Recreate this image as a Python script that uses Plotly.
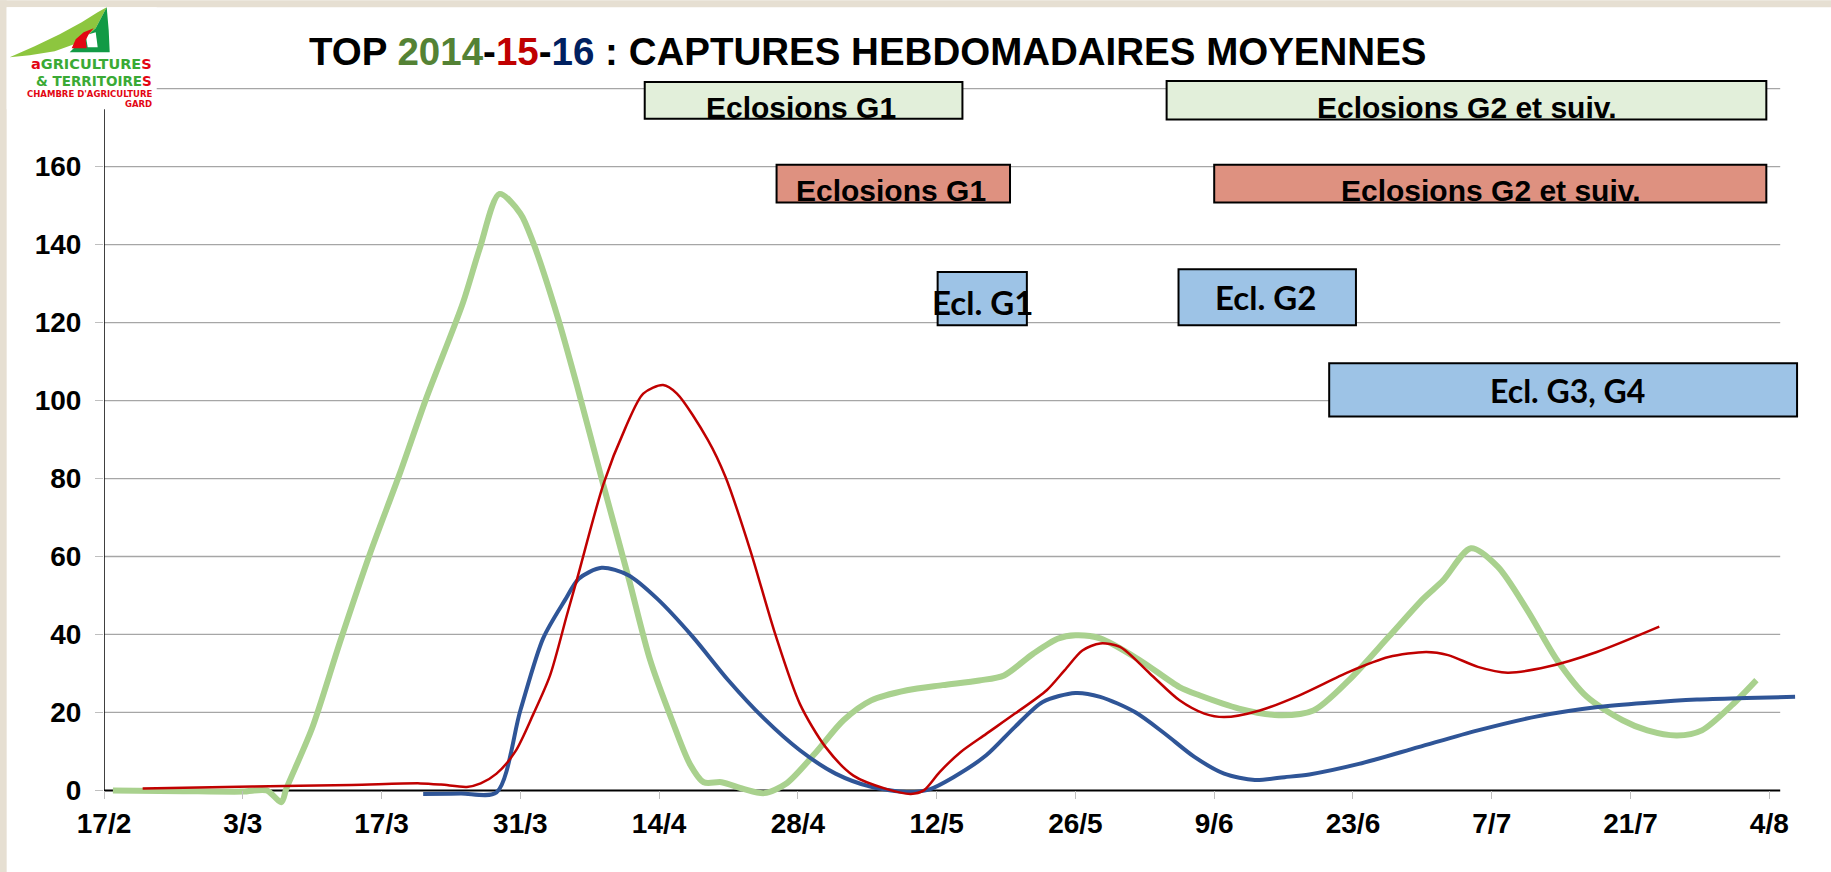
import plotly.graph_objects as go

# ---------------- data (x = days since 17/2) ----------------
tick_days = [0, 14, 28, 42, 56, 70, 84, 98, 112, 126, 140, 154, 168]
tick_labels = ['17/2', '3/3', '17/3', '31/3', '14/4', '28/4', '12/5', '26/5',
               '9/6', '23/6', '7/7', '21/7', '4/8']
y_ticks = [0, 20, 40, 60, 80, 100, 120, 140, 160]
grid_vals = [20, 40, 60, 80, 100, 120, 140, 160, 180]

days_2014 = [0.9, 8, 14, 16.4, 17.9, 18.4, 21, 23.8, 26.8, 29.8, 32.5, 36.2, 37.9, 39.9,
             42, 43.3, 45.7, 47.7, 50.2, 52.9, 55.1, 57.3, 59.1, 60.5, 62.3, 64.5, 66.6,
             68.8, 71.7, 74.6, 77.4, 81, 84.6, 88.3, 90.8, 93.7, 96.2, 98, 100.5, 104.5,
             108.5, 110.5, 114.5, 118.5, 122, 125.6, 129.6, 133.1, 135.1, 137.9, 140.6,
             143.6, 146.6, 149.6, 153.2, 155.7, 158.7, 161.2, 164.2, 166.7]
capt_2014 = [0, -0.2, -0.3, 0, -3, 0.5, 16, 38, 60.5, 81, 100.5, 125, 139, 153,
             148, 140.5, 122, 104, 80, 54.7, 33.4, 18, 6.8, 2.1, 2.1, 0.4, -0.7,
             1.7, 9.4, 18, 23.1, 25.7, 27, 28.2, 29.5, 35, 38.9, 39.8, 39, 33.4,
             26.5, 24.4, 21, 19.3, 20.5, 28.3, 39.4, 49.2, 53.9, 62.1, 57.4,
             46.2, 33.4, 24, 18, 15.4, 14.1, 15.4, 21.8, 28.3]

days_2015 = [3.9, 15, 25, 31.9, 34, 36.6, 38, 39.6, 41.5, 43.3, 45, 46.7, 47.7, 50.4,
             52.6, 54.4, 56.4, 57.8, 60.9, 62.7, 65.2, 67.7, 70.2, 72.8, 75.6, 78.9,
             81.4, 82.7, 84.3, 86.4, 89, 91.9, 95.1, 96.9, 98.7, 100.5, 102.5, 105.5,
             108.5, 111, 113, 116.6, 120.6, 125.6, 129.6, 133.4, 135.6, 138.6, 141.6,
             145.6, 150.6, 156.9]
capt_2015 = [0.5, 1.0, 1.4, 1.8, 1.5, 0.9, 1.8, 4.3, 10, 19.5, 29.5, 45, 54, 78.7,
             93, 101.8, 104, 101.8, 90, 80.4, 61.6, 40.2, 22.2, 11.1, 3.8, 0.4,
             -0.9, 0, 4.7, 9.8, 14.5, 19.7, 25.7, 30.8, 35.9, 37.7, 36.8, 30,
             23.1, 19.7, 18.8, 20.5, 24.4, 30.4, 34.2, 35.5, 34.7, 31.7, 30.2,
             31.7, 35.5, 42]

days_2016 = [32.2, 36, 39.6, 42, 44.3, 46.5, 47.9, 50.2, 52.9, 55.8, 59.4, 63, 66.6,
             70.2, 73.8, 77.4, 81, 83.2, 85.7, 89, 91.9, 94.7, 98, 100.5, 104, 107,
             110, 113, 116.1, 119.1, 121.6, 126.6, 132.6, 138.6, 144.6, 150.7, 155.7,
             160.7, 165.7, 170.6]
capt_2016 = [-0.9, -0.8, -0.5, 20.5, 39, 48.8, 54.3, 57.1, 55.2, 49.2, 39.4, 28.2, 18.4,
             10.3, 4.3, 0.9, -0.4, 0.2, 3.4, 9, 16.3, 22.7, 25, 24, 20.1, 14.6,
             8.6, 4.3, 2.7, 3.4, 4.1, 6.8, 11.1, 15.4, 19, 21.4, 22.5,
             23.3, 23.7, 24]

# ---------------- geometry ----------------
FW, FH = 1831, 872
L = 104.3
XPX, YPX = 9.91, 3.898          # pixels per day / per unit
XMAX, YMIN, YMAX = 171.5, -4, 183
Y0PX = 790.0                    # pixel row of value 0
W = XMAX * XPX
H = (YMAX - YMIN) * YPX
T = Y0PX - YMAX * YPX
B = FH - (Y0PX - YMIN * YPX)
X_END, Y_END = 169.1, 180


def px(x):
    return (x - L) / W


def py(y):
    return (T + H - y) / H


AX = "Liberation Sans, Arial, sans-serif"
CAL = "Lato, Carlito, Calibri, sans-serif"
LOGO = "DejaVu Sans, Liberation Sans, sans-serif"

fig = go.Figure()
fig.add_trace(go.Scatter(x=days_2014, y=capt_2014, mode='lines', name='2014',
                         line=dict(color='#a9d18e', width=6, shape='spline', smoothing=0.8)))
fig.add_trace(go.Scatter(x=days_2016, y=capt_2016, mode='lines', name='2016',
                         line=dict(color='#2f5597', width=4, shape='spline', smoothing=0.8)))
fig.add_trace(go.Scatter(x=days_2015, y=capt_2015, mode='lines', name='2015',
                         line=dict(color='#c00000', width=2.5, shape='spline', smoothing=0.8)))

shapes = []
for g in grid_vals:
    shapes.append(dict(type='line', xref='x', yref='y', x0=0, x1=X_END, y0=g, y1=g,
                       line=dict(color='#a6a6a6', width=1.3), layer='below'))
shapes.append(dict(type='line', xref='x', yref='y', x0=0, x1=X_END, y0=0, y1=0,
                   line=dict(color='black', width=2), layer='below'))
shapes.append(dict(type='line', xref='x', yref='y', x0=0, x1=0, y0=0, y1=Y_END,
                   line=dict(color='black', width=1.5), layer='below'))

boxes = [
    (54.55, 86.6, 172.3, 181.7, '#e2efda'),
    (107.2, 167.7, 172.1, 182.0, '#e2efda'),
    (67.85, 91.4, 150.8, 160.5, '#de9180'),
    (112.0, 167.7, 150.8, 160.5, '#de9180'),
    (84.1, 93.1, 119.3, 133.0, '#9dc3e6'),
    (108.4, 126.3, 119.3, 133.7, '#9dc3e6'),
    (123.6, 170.8, 95.9, 109.6, '#9dc3e6'),
]
for x0, x1, y0, y1, col in boxes:
    shapes.append(dict(type='rect', xref='x', yref='y', x0=x0, x1=x1, y0=y0, y1=y1,
                       fillcolor=col, line=dict(color='black', width=2), layer='above'))

# page background strips
shapes.append(dict(type='rect', xref='paper', yref='paper', x0=px(0), x1=px(FW),
                   y0=py(7), y1=py(0), fillcolor='#e6dfd2', line=dict(width=0), layer='above'))
shapes.append(dict(type='rect', xref='paper', yref='paper', x0=px(0), x1=px(7),
                   y0=py(FH), y1=py(0), fillcolor='#e6dfd2', line=dict(width=0), layer='above'))
# logo white backing
shapes.append(dict(type='rect', xref='paper', yref='paper', x0=px(7), x1=px(157),
                   y0=py(109), y1=py(7), fillcolor='white', line=dict(width=0), layer='above'))


def poly(pts):
    return 'M ' + ' L '.join(f'{px(a):.5f},{py(b):.5f}' for a, b in pts) + ' Z'


shapes.append(dict(type='path', xref='paper', yref='paper',
                   path=poly([(10, 57), (35, 46), (60, 34), (82, 22), (98, 12), (107, 7),
                              (96, 28), (80, 42), (55, 51), (30, 55)]),
                   fillcolor='#8dc63f', line=dict(width=0), layer='above'))
shapes.append(dict(type='path', xref='paper', yref='paper',
                   path=poly([(107, 7), (109, 30), (110, 52), (70, 52), (80, 42), (96, 28)]),
                   fillcolor='#129a45', line=dict(width=0), layer='above'))
shapes.append(dict(type='path', xref='paper', yref='paper',
                   path=poly([(86, 35), (96, 32), (98, 47), (88, 47)]),
                   fillcolor='white', line=dict(width=0), layer='above'))
shapes.append(dict(type='path', xref='paper', yref='paper',
                   path=poly([(72, 48), (76, 39), (84, 32), (94, 28), (89, 34), (86, 40), (87, 48)]),
                   fillcolor='#e30613', line=dict(width=0), layer='above'))

ann = []
ann.append(dict(xref='paper', yref='paper', x=px(868), y=py(51), xanchor='center', yanchor='middle',
                showarrow=False,
                text="TOP <span style='color:#548235'>2014</span>-<span style='color:#c00000'>15</span>-"
                     "<span style='color:#002060'>16</span> : CAPTURES HEBDOMADAIRES MOYENNES",
                font=dict(family=AX, size=38.5, color='black', weight='bold')))
labels = [
    ('Eclosions G1', 70.35, 175.3, AX, 30),
    ('Eclosions G2 et suiv.', 137.5, 175.3, AX, 30),
    ('Eclosions G1', 79.4, 153.8, AX, 30),
    ('Eclosions G2 et suiv.', 139.9, 153.8, AX, 30),
    ('Ecl. G1', 88.6, 125.3, CAL, 33),
    ('Ecl. G2', 117.2, 126.5, CAL, 33),
    ('Ecl. G3, G4', 147.6, 102.6, CAL, 32),
]
for txt, x, y, fam, sz in labels:
    ann.append(dict(xref='x', yref='y', x=x, y=y, xanchor='center', yanchor='middle',
                    showarrow=False, text=txt,
                    font=dict(family=fam, size=sz, color='black', weight='bold')))

# logo text, one annotation per line
R, G = '#e30613', '#3aaa35'
logo_lines = [
    (f"<span style='color:{R}'>a</span>GRICULTURE<span style='color:{R}'>S</span>", 64.0, 14.5, G),
    (f"&amp; TERRITOIRE<span style='color:{R}'>S</span>", 80.5, 13.5, G),
    ("CHAMBRE D'AGRICULTURE", 93.6, 8.5, R),
    ("GARD", 103.6, 8.5, R),
]
for txt, yy, sz, col in logo_lines:
    ann.append(dict(xref='paper', yref='paper', x=px(154), y=py(yy), xanchor='right',
                    yanchor='middle', showarrow=False, text=txt,
                    font=dict(family=LOGO, size=sz, color=col, weight='bold')))

fig.update_layout(
    width=FW, height=FH, autosize=False,
    margin=dict(l=L, r=FW - L - W, t=T, b=B, pad=0),
    paper_bgcolor='white', plot_bgcolor='white', showlegend=False,
    shapes=shapes, annotations=ann,
    xaxis=dict(range=[0, XMAX], tickmode='array', tickvals=tick_days, ticktext=tick_labels,
               anchor='free', position=(0 - YMIN) / (YMAX - YMIN),
               ticks='outside', ticklen=8, tickcolor='#bfbfbf', tickwidth=1,
               showgrid=False, zeroline=False, showline=False,
               tickfont=dict(family=AX, size=28, color='black', weight='bold')),
    yaxis=dict(range=[YMIN, YMAX], tickmode='array', tickvals=y_ticks,
               ticks='outside', ticklen=8, tickcolor='#bfbfbf', tickwidth=1,
               showgrid=False, zeroline=False, showline=False, ticklabelstandoff=8,
               tickfont=dict(family=AX, size=28, color='black', weight='bold')),
)

fig.write_html("out.html", config={'displayModeBar': False},
               post_script="document.body.style.margin='0';document.body.style.overflow='hidden';")
